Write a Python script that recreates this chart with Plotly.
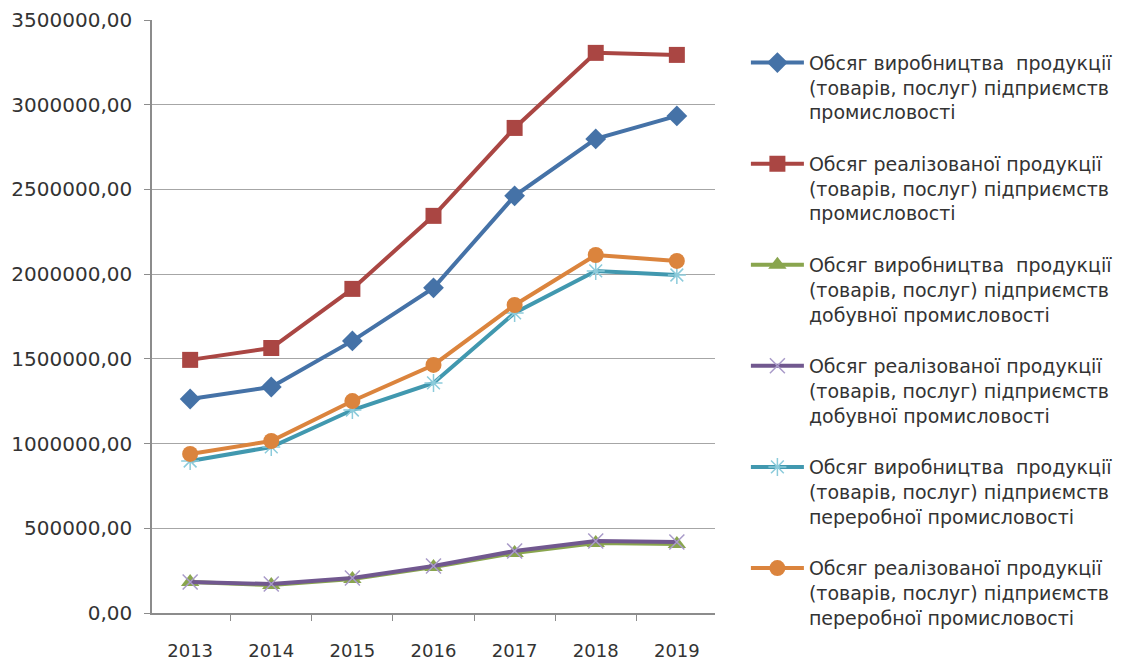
import plotly.graph_objects as go

years = ["2013", "2014", "2015", "2016", "2017", "2018", "2019"]

# values
vyrob_prom = [1263000, 1334000, 1606000, 1919000, 2462000, 2798000, 2934000]
real_prom = [1494000, 1564000, 1913000, 2344000, 2863000, 3306000, 3294000]
vyrob_dobuv = [183000, 165000, 200000, 272000, 354000, 413000, 407000]
real_dobuv = [183000, 171000, 207000, 277000, 366000, 425000, 419000]
vyrob_pererob = [897000, 980000, 1198000, 1358000, 1771000, 2019000, 1995000]
real_pererob = [939000, 1015000, 1251000, 1464000, 1818000, 2113000, 2078000]

names = [
    "Обсяг виробництва  продукції<br>(товарів, послуг) підприємств<br>промисловості",
    "Обсяг реалізованої продукції<br>(товарів, послуг) підприємств<br>промисловості",
    "Обсяг виробництва  продукції<br>(товарів, послуг) підприємств<br>добувної промисловості",
    "Обсяг реалізованої продукції<br>(товарів, послуг) підприємств<br>добувної промисловості",
    "Обсяг виробництва  продукції<br>(товарів, послуг) підприємств<br>переробної промисловості",
    "Обсяг реалізованої продукції<br>(товарів, послуг) підприємств<br>переробної промисловості",
]

series = [vyrob_prom, real_prom, vyrob_dobuv, real_dobuv, vyrob_pererob, real_pererob]
colors = ["#4572A7", "#AA4643", "#89A54E", "#71588F", "#4198AF", "#DB843D"]
symbols = ["diamond", "square", "triangle-up", "x-thin-open", "asterisk-open", "circle"]
sizes = [16, 16, 16, 15, 15, 16]
open_colors = {"x-thin-open": "#A99BC9", "asterisk-open": "#8CCBDB"}

fig = go.Figure()
for i, (vals, name, col, sym, sz) in enumerate(zip(series, names, colors, symbols, sizes)):
    mk = dict(symbol=sym, size=sz, color=col)
    if sym in open_colors:
        mk["color"] = open_colors[sym]
        mk["line"] = dict(color=open_colors[sym], width=1.5)
    fig.add_trace(go.Scatter(
        x=years, y=vals, name=name, mode="lines+markers", legendgroup=str(i),
        line=dict(color=col, width=4), marker=mk,
    ))

# page body has an 8px margin, so the figure is a bit smaller than the window
fig.update_layout(
    width=1116, height=656,
    margin=dict(l=144, r=409, t=12, b=51),
    paper_bgcolor="white", plot_bgcolor="white",
    font=dict(family="DejaVu Sans", size=17, color="#333333"),
    separators=", ",
    showlegend=True,
    legend=dict(
        xref="container", yref="container",
        x=0.6612, y=0.9456, xanchor="left", yanchor="top",
        font=dict(size=19, color="#333333"),
        tracegroupgap=24, itemwidth=53, valign="top", maxheight=640,
    ),
    xaxis=dict(
        type="category", showgrid=False, showline=True, linecolor="#8c8c8c", linewidth=1.5,
        ticks="outside", tickson="boundaries", ticklen=6, tickcolor="#8c8c8c",
        ticklabelstandoff=21, tickfont=dict(size=18), automargin=False,
    ),
    yaxis=dict(
        range=[0, 3500000], dtick=500000, tickformat=".2f",
        showgrid=True, gridcolor="#a6a6a6", gridwidth=1,
        showline=True, linecolor="#8c8c8c", linewidth=1.5,
        ticks="outside", ticklen=6, tickcolor="#8c8c8c",
        ticklabelstandoff=8, tickfont=dict(size=20), zeroline=False, automargin=False,
    ),
)

fig.write_html("out.html")
